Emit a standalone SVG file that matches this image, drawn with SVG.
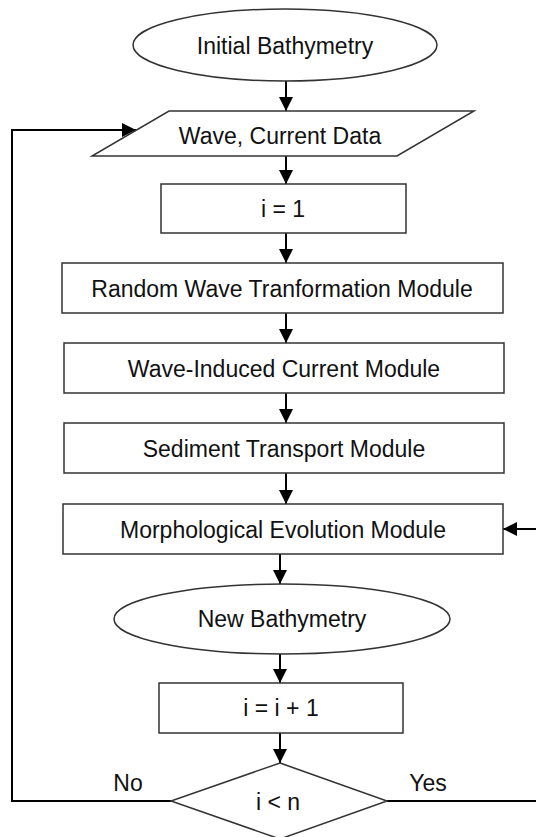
<svg xmlns="http://www.w3.org/2000/svg" width="536" height="837" viewBox="0 0 536 837">
  <defs>
    <marker id="ah" viewBox="0 0 14 14" refX="14" refY="7" markerWidth="14" markerHeight="14" orient="auto" markerUnits="userSpaceOnUse">
      <path d="M0,0 L14,7 L0,14 z" fill="#000"/>
    </marker>
    <style>
      .shape { fill: #fff; stroke: #333; stroke-width: 1.5; }
      .lbl { font-family: "Liberation Sans", Arial, sans-serif; font-size: 23px; fill: #111; text-anchor: middle; }
      .conn { fill: none; stroke: #000; stroke-width: 2; }
      .arr { marker-end: url(#ah); }
    </style>
  </defs>
  <rect width="536" height="837" fill="#fff"/>

  <g id="connectors">
    <line class="conn arr" x1="286" y1="81" x2="286" y2="111"/>
    <line class="conn arr" x1="286" y1="156" x2="286" y2="184"/>
    <line class="conn arr" x1="286" y1="233" x2="286" y2="263"/>
    <line class="conn arr" x1="286" y1="313" x2="286" y2="343"/>
    <line class="conn arr" x1="286" y1="393" x2="286" y2="423"/>
    <line class="conn arr" x1="286" y1="473" x2="286" y2="504"/>
    <line class="conn arr" x1="280" y1="554" x2="280" y2="584"/>
    <line class="conn arr" x1="280" y1="654" x2="280" y2="683"/>
    <line class="conn arr" x1="280" y1="733" x2="280" y2="763"/>
    <polyline class="conn arr" points="171,801 12,801 12,130 136,130"/>
    <polyline class="conn arr" points="387,801 538,801 538,529 503,529"/>
    <text class="lbl" x="128" y="791">No</text>
    <text class="lbl" x="428" y="791">Yes</text>
  </g>

  <g id="initial">
    <ellipse class="shape" cx="285" cy="45" rx="152" ry="36"/>
    <text class="lbl" x="285" y="54">Initial Bathymetry</text>
  </g>
  <g id="data">
    <polygon class="shape" points="169,111 474,111 397,156 92,156"/>
    <text class="lbl" x="280" y="144">Wave, Current Data</text>
  </g>
  <g id="init_i">
    <rect class="shape" x="161" y="184" width="245" height="49"/>
    <text class="lbl" x="283" y="217">i = 1</text>
  </g>
  <g id="wave_transform">
    <rect class="shape" x="62" y="263" width="441" height="50"/>
    <text class="lbl" x="282" y="297">Random Wave Tranformation Module</text>
  </g>
  <g id="current">
    <rect class="shape" x="64" y="343" width="440" height="50"/>
    <text class="lbl" x="284" y="377">Wave-Induced Current Module</text>
  </g>
  <g id="sediment">
    <rect class="shape" x="64" y="423" width="440" height="50"/>
    <text class="lbl" x="284" y="457">Sediment Transport Module</text>
  </g>
  <g id="morph">
    <rect class="shape" x="63" y="504" width="440" height="50"/>
    <text class="lbl" x="283" y="538">Morphological Evolution Module</text>
  </g>
  <g id="new_bathy">
    <ellipse class="shape" cx="282" cy="619" rx="168" ry="35"/>
    <text class="lbl" x="282" y="627">New Bathymetry</text>
  </g>
  <g id="increment">
    <rect class="shape" x="159" y="683" width="244" height="50"/>
    <text class="lbl" x="281" y="716">i = i + 1</text>
  </g>
  <g id="decision">
    <polygon class="shape" points="280,763 387,801 280,839 171,801"/>
    <text class="lbl" x="278" y="810">i &lt; n</text>
  </g>
</svg>
